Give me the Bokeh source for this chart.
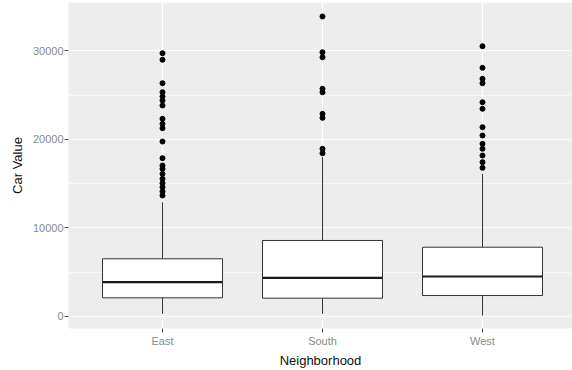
from bokeh.plotting import figure
from bokeh.models import FixedTicker, Range1d
from bokeh.embed import file_html
from bokeh.resources import INLINE

# ---- data ----
categories = ["East", "South", "West"]
q1 = [2110, 2070, 2370]
median = [3880, 4370, 4520]
q3 = [6520, 8590, 7830]
whisker_low = [300, 300, 110]
whisker_high = [12900, 18000, 16120]
outliers_east = [29750, 29010, 26360, 25350, 24860, 24410, 23840, 22340, 21770,
                 21280, 19770, 17890, 17060, 16690, 16120, 15560, 15060, 14610,
                 14120, 13670]
outliers_south = [33900, 29860, 29300, 25730, 25340, 22900, 22450, 18950, 18450]
outliers_west = [30540, 28100, 26860, 26360, 24210, 23470, 21390, 20450, 19510,
                 18950, 18190, 17440, 16800]
outliers = [outliers_east, outliers_south, outliers_west]
y_ticks = [0, 10000, 20000, 30000]
y_minor = [5000, 15000, 25000]

xs = [i + 1 for i in range(len(categories))]
half = 0.375

p = figure(width=572, height=370, output_backend="svg", toolbar_location=None,
           x_range=Range1d(0.4125, 3.5625), y_range=Range1d(-1356, 35480),
           min_border_left=68, min_border_right=0, min_border_top=2,
           min_border_bottom=42)

p.background_fill_color = "#EDEDED"
p.border_fill_color = "white"
p.outline_line_color = None

# grid
p.xgrid.ticker = FixedTicker(ticks=xs)
p.ygrid.ticker = FixedTicker(ticks=y_ticks, minor_ticks=y_minor)
for g in (p.xgrid, p.ygrid):
    g.grid_line_color = "white"
    g.grid_line_width = 1.2
p.ygrid.minor_grid_line_color = "white"
p.ygrid.minor_grid_line_width = 0.6

# whiskers
p.segment(x0=xs, y0=q3, x1=xs, y1=whisker_high, line_color="#333333", line_width=1)
p.segment(x0=xs, y0=whisker_low, x1=xs, y1=q1, line_color="#333333", line_width=1)
# boxes
p.vbar(x=xs, width=2 * half, top=q3, bottom=q1, fill_color="white",
       line_color="#333333", line_width=1)
# medians
p.segment(x0=[x - half for x in xs], y0=median, x1=[x + half for x in xs], y1=median,
          line_color="#1a1a1a", line_width=2.2)
# outliers
ox, oy = [], []
for x, vals in zip(xs, outliers):
    ox += [x] * len(vals)
    oy += vals
p.scatter(ox, oy, size=5, fill_color="black", line_color="black")

# axes
p.xaxis.ticker = FixedTicker(ticks=xs)
p.xaxis.major_label_overrides = {x: c for x, c in zip(xs, categories)}
p.yaxis.ticker = FixedTicker(ticks=y_ticks, minor_ticks=[])
p.yaxis.major_label_overrides = {t: str(t) for t in y_ticks}

for ax in (p.xaxis[0], p.yaxis[0]):
    ax.axis_line_color = None
    ax.major_tick_line_color = "#555555"
    ax.major_tick_in = 0
    ax.major_tick_out = 4
    ax.minor_tick_line_color = None
    ax.major_label_text_font = "Liberation Sans"
    ax.major_label_text_font_size = "11px"
    ax.major_label_text_color = "#8a8a8a"
    ax.major_label_standoff = 2
    ax.axis_label_text_font = "Liberation Sans"
    ax.axis_label_text_font_size = "13px"
    ax.axis_label_text_font_style = "normal"
    ax.axis_label_text_color = "#111111"

p.xaxis.axis_label = "Neighborhood"
p.yaxis.axis_label = "Car Value"
p.xaxis.axis_label_standoff = 3
p.yaxis.axis_label_standoff = 5
p.yaxis.major_label_standoff = 1

open("out.html", "w").write(file_html(p, INLINE))
